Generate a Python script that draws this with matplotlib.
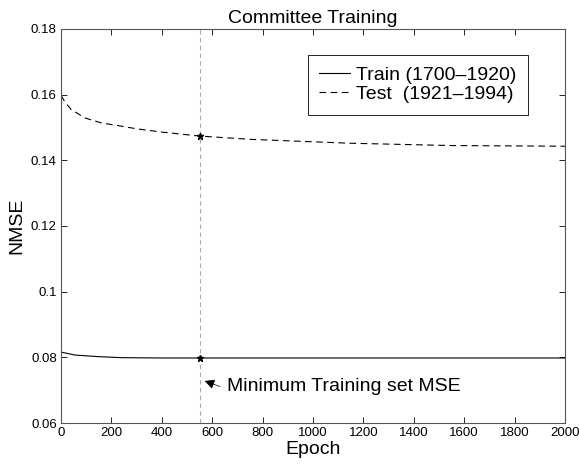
import numpy as np
import matplotlib.pyplot as plt

plt.rcParams['font.family'] = ['Liberation Sans', 'DejaVu Sans']

# values
test_epoch = [0, 15, 40, 95, 160, 240, 300, 400, 550, 750, 1150, 1550, 2000]
test_nmse = [0.1598, 0.1578, 0.1555, 0.1529, 0.1514, 0.1504, 0.1496, 0.1486, 0.1474,
             0.1464, 0.1452, 0.1445, 0.1443]
train_epoch = [0, 55, 150, 240, 400, 550, 1000, 1500, 2000]
train_nmse = [0.0816, 0.0807, 0.0802, 0.0799, 0.0798, 0.0798, 0.0798, 0.0798, 0.0798]
min_epoch = 550
min_train = 0.0798
min_test = 0.1474

fig = plt.figure(figsize=(5.79, 4.70), dpi=100)
ax = fig.add_axes([0.1054, 0.1, 0.8704, 0.8383])

ax.plot(train_epoch, train_nmse, color='black', linewidth=0.8, label='Train (1700\u20131920)')
ax.plot(test_epoch, test_nmse, color='black', linewidth=0.8, linestyle=(0, (6, 4)),
        label='Test  (1921\u20131994)')
ax.axvline(min_epoch, color='#aaaaaa', linestyle=(0, (4, 3)), linewidth=0.8, zorder=0)
ax.plot([min_epoch, min_epoch], [min_train, min_test], linestyle='none', marker='*',
        color='black', markersize=5)

ax.annotate('', xy=(570, 0.0728), xytext=(631, 0.0711),
            arrowprops=dict(arrowstyle='-|>', color='black', lw=0.5,
                            mutation_scale=15, shrinkA=0, shrinkB=0))
ax.text(660, 0.0711, 'Minimum Training set MSE', fontsize=14, va='center')

ax.set_xlim(0, 2000)
ax.set_ylim(0.06, 0.18)
ax.set_xticks(np.arange(0, 2001, 200))
ax.set_yticks([0.06, 0.08, 0.1, 0.12, 0.14, 0.16, 0.18])
ax.set_yticklabels(['0.06', '0.08', '0.1', '0.12', '0.14', '0.16', '0.18'])
ax.tick_params(direction='in', top=True, right=True, labelsize=9.5, length=4, width=0.6, pad=3)
for s in ax.spines.values():
    s.set_linewidth(0.8)
    s.set_color('#555555')

ax.set_title('Committee Training', fontsize=14, pad=4)
ax.set_xlabel('Epoch', fontsize=14, labelpad=1)
ax.set_ylabel('NMSE', fontsize=14, labelpad=4)

leg = ax.legend(loc='upper right', bbox_to_anchor=(0.927, 0.934), fontsize=14,
                fancybox=False, framealpha=1, edgecolor='black', handlelength=1.6,
                handletextpad=0.3, borderpad=0.6, labelspacing=0.05, borderaxespad=0)
leg.get_frame().set_linewidth(0.6)

fig.savefig('out.png', dpi=100)
